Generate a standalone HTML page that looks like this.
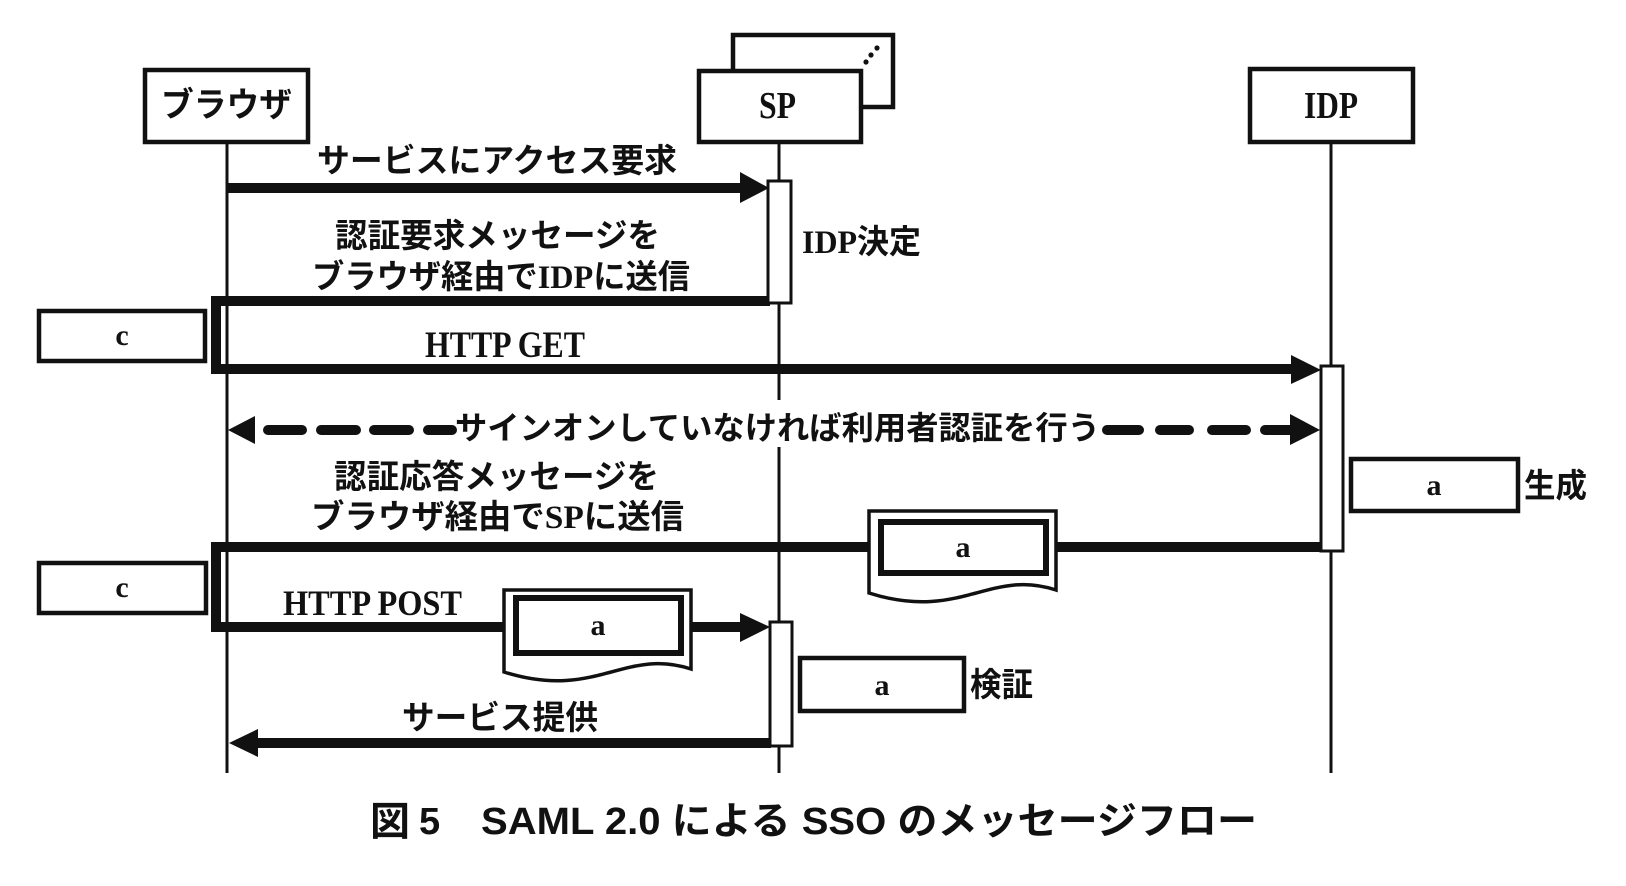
<!DOCTYPE html>
<html><head><meta charset="utf-8"><style>
html,body{margin:0;padding:0;background:#fff;}
svg{display:block;}
.j{font-family:"Liberation Serif","Noto Sans CJK JP",sans-serif;font-weight:bold;fill:#111;}
.s{font-family:"Liberation Serif",serif;font-weight:bold;fill:#111;}
.c{font-family:"Liberation Sans","Noto Sans CJK JP",sans-serif;font-weight:bold;fill:#111;}
</style></head><body>
<svg width="1626" height="886" viewBox="0 0 1626 886" xmlns="http://www.w3.org/2000/svg">
<rect width="1626" height="886" fill="#fff"/>
<g stroke="#111" fill="none">
  <!-- lifelines -->
  <line x1="227" y1="142" x2="227" y2="773" stroke-width="3"/>
  <line x1="779" y1="142" x2="779" y2="773" stroke-width="3"/>
  <line x1="1331" y1="142" x2="1331" y2="773" stroke-width="3"/>
</g>
<!-- gap in SP lifeline behind dashed label -->
<rect x="760" y="400" width="40" height="47" fill="#fff"/>
<g stroke="#111" fill="none">
  <!-- header boxes -->
  <rect x="145" y="70" width="163" height="72" stroke-width="4.5" fill="#fff"/>
  <rect x="733" y="35" width="160" height="72" stroke-width="4.5" fill="#fff"/>
  <rect x="699" y="71" width="162" height="71" stroke-width="4.5" fill="#fff"/>
  <rect x="1250" y="69" width="163" height="73" stroke-width="4.5" fill="#fff"/>
  <!-- arrow 1 -->
  <line x1="227" y1="188" x2="745" y2="188" stroke-width="10"/>
  <!-- bracket 1 -->
  <path d="M770,301 H216 V369 H1296" stroke-width="10" stroke-linejoin="miter"/>
  <!-- response bracket -->
  <path d="M1322,547 H216 V627 H745" stroke-width="10" stroke-linejoin="miter"/>
  <!-- service return -->
  <line x1="255" y1="743" x2="771" y2="743" stroke-width="10"/>
  <!-- dashed -->
  <g stroke-width="10" stroke-linecap="round">
    <line x1="268" y1="430" x2="302" y2="430"/>
    <line x1="321" y1="430" x2="356" y2="430"/>
    <line x1="374" y1="430" x2="409" y2="430"/>
    <line x1="428" y1="430" x2="452" y2="430"/>
    <line x1="1107" y1="430" x2="1139" y2="430"/>
    <line x1="1160" y1="430" x2="1189" y2="430"/>
    <line x1="1212" y1="430" x2="1246" y2="430"/>
    <line x1="1265" y1="430" x2="1292" y2="430"/>
  </g>
</g>
<!-- arrowheads -->
<g fill="#111">
  <polygon points="740,172 769,188 740,203"/>
  <polygon points="1291,355 1321,370 1291,384"/>
  <polygon points="255,416 228,430 255,444"/>
  <polygon points="1290,414 1320,430 1290,445"/>
  <polygon points="740,613 770,627 740,642"/>
  <polygon points="258,729 229,743 258,757"/>
  <circle cx="866" cy="62" r="2.6"/>
  <circle cx="871" cy="55" r="2.6"/>
  <circle cx="877" cy="48" r="2.6"/>
</g>
<!-- activation boxes -->
<g stroke="#111" stroke-width="3" fill="#fff">
  <rect x="768" y="181" width="23" height="122"/>
  <rect x="1321" y="366" width="22" height="185"/>
  <rect x="770" y="622" width="22" height="124"/>
</g>
<!-- side boxes -->
<g stroke="#111" stroke-width="4.5" fill="#fff">
  <rect x="39" y="311" width="166" height="50"/>
  <rect x="39" y="563" width="167" height="50"/>
  <rect x="1351" y="459" width="167" height="52"/>
  <rect x="800" y="658" width="164" height="53"/>
</g>
<!-- documents -->
<g stroke="#111" fill="#fff">
  <path d="M869,511 H1056 V590 C990,568 960,622 869,593 Z" stroke-width="3.5"/>
  <rect x="881" y="522" width="165" height="51" stroke-width="6"/>
  <path d="M504,590 H691 V669 C625,647 595,701 504,672 Z" stroke-width="3.5"/>
  <rect x="516" y="598" width="165" height="55" stroke-width="6"/>
</g>
<!-- texts -->
<g dominant-baseline="central">
  <text class="j" x="161" y="106" font-size="34" textLength="131" lengthAdjust="spacingAndGlyphs">ブラウザ</text>
  <text class="s" x="759" y="106" font-size="38" textLength="37" lengthAdjust="spacingAndGlyphs">SP</text>
  <text class="s" x="1304" y="106" font-size="38" textLength="54" lengthAdjust="spacingAndGlyphs">IDP</text>
  <text class="j" x="317" y="162" font-size="33" textLength="360" lengthAdjust="spacingAndGlyphs">サービスにアクセス要求</text>
  <text class="j" x="335" y="237" font-size="33" textLength="325" lengthAdjust="spacingAndGlyphs">認証要求メッセージを</text>
  <text class="j" x="312" y="278" font-size="33" textLength="378" lengthAdjust="spacingAndGlyphs">ブラウザ経由でIDPに送信</text>
  <text class="j" x="802" y="243" font-size="33" textLength="119" lengthAdjust="spacingAndGlyphs">IDP決定</text>
  <text class="j" x="455" y="428" font-size="32" textLength="645" lengthAdjust="spacingAndGlyphs">サインオンしていなければ利用者認証を行う</text>
  <text class="j" x="334" y="478" font-size="33" textLength="325" lengthAdjust="spacingAndGlyphs">認証応答メッセージを</text>
  <text class="j" x="311" y="518" font-size="33" textLength="373" lengthAdjust="spacingAndGlyphs">ブラウザ経由でSPに送信</text>
  <text class="j" x="402" y="719" font-size="33" textLength="196" lengthAdjust="spacingAndGlyphs">サービス提供</text>
  <text class="j" x="1524" y="487" font-size="33" textLength="63" lengthAdjust="spacingAndGlyphs">生成</text>
  <text class="j" x="970" y="686" font-size="33" textLength="63" lengthAdjust="spacingAndGlyphs">検証</text>
</g>
<text class="s" x="425" y="357" font-size="37" textLength="160" lengthAdjust="spacingAndGlyphs">HTTP GET</text>
<text class="s" x="283" y="615" font-size="36" textLength="179" lengthAdjust="spacingAndGlyphs">HTTP POST</text>
<g text-anchor="middle">
  <text class="s" x="122" y="345" font-size="30">c</text>
  <text class="s" x="122" y="597" font-size="30">c</text>
  <text class="s" x="1434" y="495" font-size="30">a</text>
  <text class="s" x="963" y="557" font-size="30">a</text>
  <text class="s" x="598" y="635" font-size="30">a</text>
  <text class="s" x="882" y="695" font-size="30">a</text>
</g>
<!-- caption -->
<g dominant-baseline="central">
  <text class="c" x="370" y="822" font-size="40">図</text>
  <text class="c" x="419" y="822" font-size="38">5</text>
  <text class="c" x="481" y="822" font-size="38" textLength="776" lengthAdjust="spacingAndGlyphs">SAML 2.0 による SSO のメッセージフロー</text>
</g>
</svg>
</body></html>
